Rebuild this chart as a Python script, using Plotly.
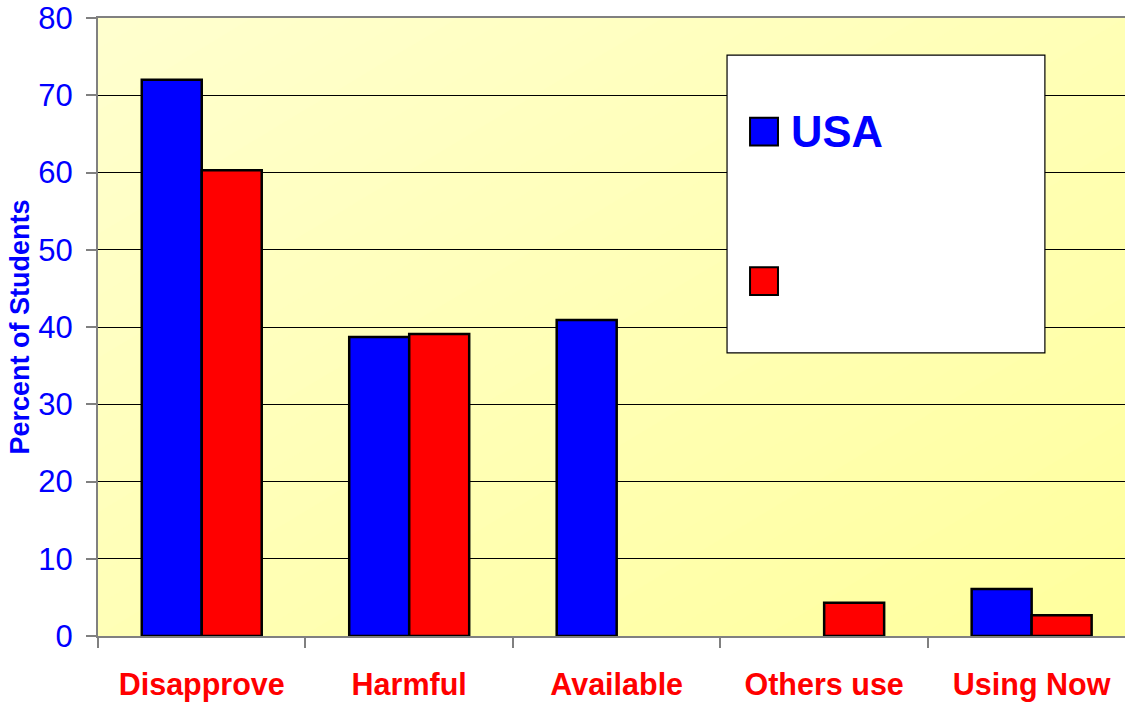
import plotly.graph_objects as go

categories = ["Disapprove", "Harmful", "Available", "Others use", "Using Now"]
usa_values = [72.0, 38.7, 40.9, None, 6.1]
other_values = [60.3, 39.1, None, 4.3, 2.7]
y_ticks = [0, 10, 20, 30, 40, 50, 60, 70, 80]

fig = go.Figure()
fig.add_trace(go.Bar(x=categories, y=usa_values, name="USA",
                     marker=dict(color="#0000FF", line=dict(color="black", width=2.5))))
fig.add_trace(go.Bar(x=categories, y=other_values, name=" ",
                     marker=dict(color="#FF0000", line=dict(color="black", width=2.5))))

# background gradient (diagonal bands) as shapes in paper coords
def clip_square(c):
    sq = [(0, 0), (1, 0), (1, 1), (0, 1)]
    out = []
    f = lambda p: p[0] - p[1] - c
    for i in range(len(sq)):
        a, b = sq[i], sq[(i + 1) % len(sq)]
        fa, fb = f(a), f(b)
        if fa >= 0:
            out.append(a)
        if (fa >= 0) != (fb >= 0):
            t = fa / (fa - fb)
            out.append((a[0] + t * (b[0] - a[0]), a[1] + t * (b[1] - a[1])))
    return out

shapes = []
N = 40
c0, c1 = (255, 255, 206), (255, 255, 158)
for k in range(N):
    c = -1 + 2 * k / N
    poly = clip_square(c)
    if len(poly) < 3:
        continue
    t = k / (N - 1)
    col = "rgb(%d,%d,%d)" % tuple(round(c0[j] + (c1[j] - c0[j]) * t) for j in range(3))
    path = "M " + " L ".join("%f,%f" % p for p in poly) + " Z"
    shapes.append(dict(type="path", path=path, xref="paper", yref="paper",
                       fillcolor=col, line=dict(width=0), layer="below"))

# legend box drawn manually
shapes.append(dict(type="rect", xref="paper", yref="paper", x0=0.6125, x1=0.922, y0=0.458, y1=0.940,
                   fillcolor="white", line=dict(color="black", width=1.2), layer="above"))
shapes.append(dict(type="rect", xref="paper", yref="paper", x0=0.6349, x1=0.6621, y0=0.7935, y1=0.8387,
                   fillcolor="#0000FF", line=dict(color="black", width=2), layer="above"))
shapes.append(dict(type="rect", xref="paper", yref="paper", x0=0.6349, x1=0.6621, y0=0.5516, y1=0.5968,
                   fillcolor="#FF0000", line=dict(color="black", width=2), layer="above"))

fig.update_layout(
    width=1125, height=702,
    margin=dict(l=98, r=0, t=18, b=64),
    paper_bgcolor="white",
    plot_bgcolor="#FFFFC0",
    barmode="group", bargap=0.4217, bargroupgap=0,
    showlegend=False,
    shapes=shapes,
    font=dict(family="Liberation Sans, Arial, sans-serif"),
    annotations=[dict(text="<b>USA</b>", xref="paper", yref="paper", x=0.6728, y=0.816,
                      xanchor="left", yanchor="middle", showarrow=False,
                      font=dict(size=43.5, color="#0000FF"))],
)
fig.update_xaxes(
    range=[-0.5, 4.45], showgrid=False, showline=True, linecolor="#808080", linewidth=2,
    mirror=True, ticks="outside", tickson="boundaries", ticklen=10, tickcolor="#808080", tickwidth=2,
    tickfont=dict(size=30.5, color="#FF0000", weight="bold"), ticklabelstandoff=20,
)
fig.update_yaxes(
    range=[0, 80], tickvals=y_ticks, showgrid=True, gridcolor="black", gridwidth=1,
    zeroline=False, showline=True, linecolor="#808080", linewidth=2,
    ticks="outside", ticklen=10, tickcolor="#808080", tickwidth=2,
    tickfont=dict(size=31, color="#0000FF"), ticklabelstandoff=7,
    title=dict(text="Percent of Students", font=dict(size=27, color="#0000FF", weight="bold"), standoff=1),
)

fig.write_html("out.html", config={"displayModeBar": False},
               post_script="document.body.style.margin='0px';")
